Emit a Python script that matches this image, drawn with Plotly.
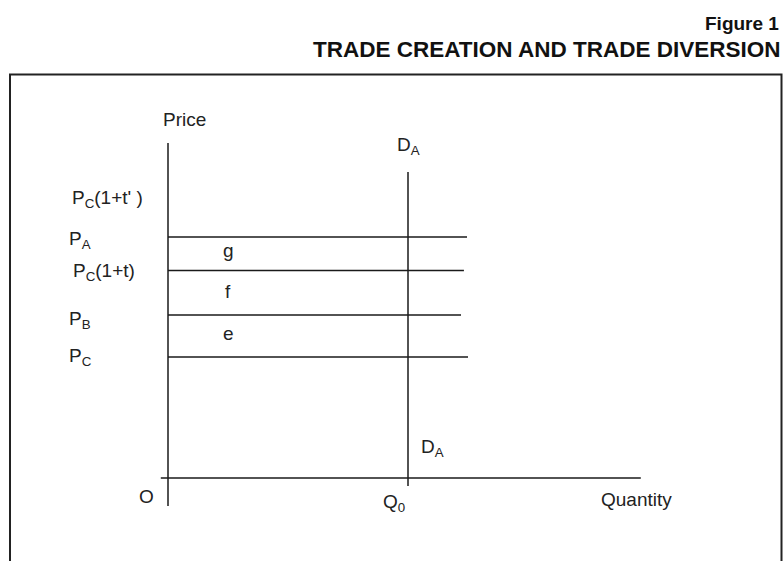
import plotly.graph_objects as go

# ---- data (economic units: quantity, price) ----
quantity_axis_q = [-0.3, 19.7]        # horizontal axis extent at price 0
price_axis_p = [-2.8, 33.5]           # vertical axis extent at quantity 0
Q0 = 10.0
demand_p = [-0.8, 30.6]               # vertical demand curve D_A at Q0
price_names = ["P<sub>C</sub>", "P<sub>B</sub>", "P<sub>C</sub>(1+t)", "P<sub>A</sub>"]
price_levels = [12.1, 16.3, 20.75, 24.1]
price_line_ends = [12.5, 12.21, 12.33, 12.46]
tariff_prime_label = "P<sub>C</sub>(1+t' )"
tariff_prime_level = 27.9
area_labels = ["e", "f", "g"]
area_levels = [14.5, 18.7, 22.8]
area_q = 2.5

fig = go.Figure()
LC = "#1a1a1a"
LW = 1.5

# axes
fig.add_trace(go.Scatter(x=quantity_axis_q, y=[0, 0], mode="lines",
                         line=dict(color=LC, width=LW), hoverinfo="skip"))
fig.add_trace(go.Scatter(x=[0, 0], y=price_axis_p, mode="lines",
                         line=dict(color=LC, width=LW), hoverinfo="skip"))
# demand
fig.add_trace(go.Scatter(x=[Q0, Q0], y=demand_p, mode="lines",
                         line=dict(color=LC, width=LW), hoverinfo="skip"))
# price lines
for lvl, end in zip(price_levels, price_line_ends):
    fig.add_trace(go.Scatter(x=[0, end], y=[lvl, lvl], mode="lines",
                             line=dict(color=LC, width=LW), hoverinfo="skip"))

FONT = dict(family="Liberation Sans, Arial, sans-serif", size=19, color="#222")
ann = []
label_q = -4.2
price_offsets = [0.0, 0.0, 0.15, 0.0]
label_y = [12.1, 15.8, 20.6, 23.8]
for name, ly, off in zip(price_names, label_y, price_offsets):
    ann.append(dict(x=label_q + off, y=ly, text=name, showarrow=False,
                    xanchor="left", yanchor="middle", font=FONT))
ann.append(dict(x=label_q + 0.1, y=tariff_prime_level, text=tariff_prime_label,
                showarrow=False, xanchor="left", yanchor="middle", font=FONT))
for t, ly in zip(area_labels, area_levels):
    ann.append(dict(x=area_q, y=ly, text=t, showarrow=False,
                    xanchor="center", yanchor="middle", font=FONT))
ann.append(dict(x=0.7, y=price_axis_p[1] + 2.4, text="Price", showarrow=False,
                xanchor="center", yanchor="middle", font=FONT))
ann.append(dict(x=Q0 - 0.55, y=demand_p[1] + 2.6, text="D<sub>A</sub>", showarrow=False,
                xanchor="left", yanchor="middle", font=FONT))
ann.append(dict(x=Q0 + 0.45, y=3.0, text="D<sub>A</sub>", showarrow=False,
                xanchor="left", yanchor="middle", font=FONT))
ann.append(dict(x=-0.9, y=-1.8, text="O", showarrow=False,
                xanchor="center", yanchor="middle", font=FONT))
ann.append(dict(x=Q0 - 0.6, y=-2.5, text="Q<sub>0</sub>", showarrow=False,
                xanchor="center", yanchor="middle", font=FONT))
ann.append(dict(x=19.5, y=-2.1, text="Quantity", showarrow=False,
                xanchor="center", yanchor="middle", font=FONT))

# titles (paper coords)
ann.append(dict(xref="paper", yref="paper", x=0.997, y=1 - 23 / 561,
                text="<b>Figure 1</b>", showarrow=False, xanchor="right", yanchor="middle",
                font=dict(family="Liberation Sans, Arial, sans-serif", size=19, color="#111")))
ann.append(dict(xref="paper", yref="paper", x=1.0, y=1 - 50 / 561,
                text="<b>TRADE CREATION AND TRADE DIVERSION</b>", showarrow=False,
                xanchor="right", yanchor="middle",
                font=dict(family="Liberation Sans, Arial, sans-serif", size=22.5, color="#111")))

fig.update_layout(
    width=783, height=561,
    margin=dict(l=0, r=0, t=0, b=0),
    paper_bgcolor="white", plot_bgcolor="white",
    showlegend=False,
    xaxis=dict(visible=False, range=[-7.0, 25.625], fixedrange=True),
    yaxis=dict(visible=False, range=[-8.3, 47.8], fixedrange=True),
    annotations=ann,
    shapes=[dict(type="rect", xref="paper", yref="paper",
                 x0=10 / 783, x1=781.5 / 783, y0=-0.1, y1=1 - 74.5 / 561,
                 line=dict(color="#222", width=2), layer="below")],
)

fig.write_html("out.html", config={"displayModeBar": False},
               post_script="document.body.style.margin='0';document.body.style.overflow='hidden';")
